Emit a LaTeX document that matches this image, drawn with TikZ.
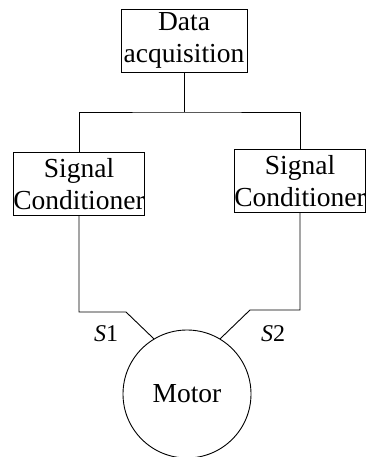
\documentclass[tikz,border=0pt]{standalone}
\usepackage{fontspec}
\setmainfont{Liberation Serif}
\usetikzlibrary{calc}
\tikzset{
	wire/.style={line width=0.9pt, color=black},
	unitbox/.style={draw, line width=0.9pt, inner sep=0pt, align=center,
		minimum width=127pt, minimum height=63pt,
		font=\fontsize{27.5}{32}\selectfont},
	motorbody/.style={draw, circle, line width=0.9pt, inner sep=0pt,
		minimum size=128pt, font=\fontsize{27.5}{32}\selectfont},
	sensorlabel/.style={inner sep=0pt, font=\fontsize{24}{28}\selectfont}
}

\begin{document}
\begin{tikzpicture}[x=1pt, y=-1pt]
			%%%%% START %%%%%
			\useasboundingbox (0, 0) rectangle (366, 457);
			
			\node[unitbox, minimum width=126pt] (daq) at (184, 40.5) {Data\\acquisition};
			\node[unitbox, minimum width=128pt] (scl) at (79, 184) {Signal\\Conditioner};
			\node[unitbox, minimum width=126pt] (scr) at (300, 181) {Signal\\Conditioner};
			\node[motorbody] (motor) at (187, 394) {Motor};
			
			\coordinate (bus) at (184, 112);
			\coordinate (s1bend) at (126, 312);
			\coordinate (s2bend) at (250, 310);
			
			\draw[wire] (daq.south) -- (bus);
			\draw[wire] (scl.north) |- (bus) -| (scr.north);
			
			\draw[wire] (scl.south) |- (s1bend) -- (motor.121);
			\draw[wire] (scr.south) |- (s2bend) -- (motor.59);
			
			\node[sensorlabel] (s1) at (106, 334) {\textit{S}1};
			\node[sensorlabel] (s2) at (273, 334) {\textit{S}2};
			%%%%% END %%%%%
\end{tikzpicture}
\end{document}
